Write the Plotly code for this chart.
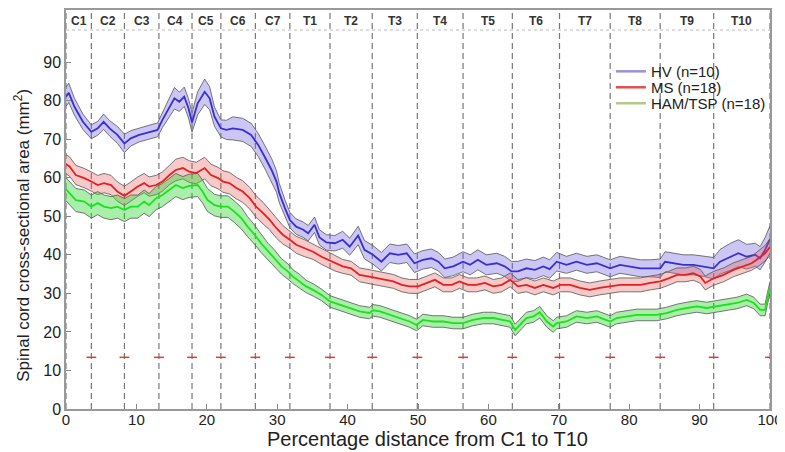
import plotly.graph_objects as go

# ---------------- data ----------------
segment_labels = ["C1", "C2", "C3", "C4", "C5", "C6", "C7",
                  "T1", "T2", "T3", "T4", "T5", "T6", "T7", "T8", "T9", "T10"]
boundaries = [0, 3.6, 8.3, 13.2, 17.9, 22.0, 26.9, 31.8, 37.5, 43.5,
              49.9, 56.4, 63.4, 70.1, 77.3, 84.4, 92.0, 100]
boundary_marks = [3.6, 8.3, 13.2, 17.9, 22.0, 26.9, 31.8, 37.5, 43.5,
                  49.9, 56.4, 63.4, 70.1, 77.3, 84.4, 92.0, 100]
boundary_mark_level = 13.4

hv_x = [0.0, 0.4, 1.2, 2.4, 3.6, 4.5, 5.35, 6.2, 7.3, 8.3, 9.2, 10.4, 11.6, 13.0, 13.7, 14.7,
        15.4, 16.1, 16.8, 17.4, 17.9, 18.7, 19.7, 20.4, 21.1, 22.0, 22.8, 23.7, 25.1, 26.3,
        27.3, 28.2, 29.2, 29.9, 30.3, 31.1, 31.8, 32.7, 33.7, 34.4, 35.3, 36.0, 37.0, 38.2,
        39.3, 40.3, 41.5, 42.4, 43.6, 44.8, 46.0, 47.2, 48.4, 49.5, 50.7, 51.9, 52.9, 53.8,
        55.0, 56.4, 57.4, 58.5, 59.7, 61.2, 62.3, 63.3, 64.2, 65.4, 66.6, 67.8, 68.7, 69.7,
        71.1, 72.5, 74.0, 75.4, 77.3, 78.7, 80.1, 81.6, 83.0, 84.4, 85.1, 86.3, 87.7, 89.1,
        90.6, 92.0, 92.9, 94.4, 95.5, 96.7, 97.9, 98.6, 99.3, 100.0]
hv_mean = [81.0, 82.0, 78.4, 74.5, 71.9, 72.8, 74.5, 72.8, 71.1, 68.9, 70.2, 71.1, 71.7, 72.4, 75.0, 78.4,
           80.6, 79.7, 81.0, 78.0, 74.3, 79.3, 82.3, 80.6, 75.8, 72.8, 72.4, 72.8, 72.4, 71.1,
           68.5, 65.5, 62.0, 59.0, 56.0, 52.1, 49.0, 47.3, 46.5, 45.6, 47.8, 44.5, 43.2, 43.0,
           43.9, 42.1, 45.0, 41.3, 40.0, 38.2, 40.4, 40.0, 40.4, 37.8, 38.7, 39.1, 38.2, 36.5,
           37.0, 38.2, 37.4, 38.7, 37.4, 37.8, 37.0, 35.7, 35.7, 36.5, 36.1, 37.0, 36.3, 38.2,
           37.4, 38.2, 37.4, 37.8, 36.5, 37.4, 37.0, 36.5, 36.5, 36.5, 38.2, 37.8, 37.4, 37.4,
           37.0, 36.5, 38.2, 39.5, 40.4, 39.5, 40.0, 39.1, 41.3, 44.0]
hv_err = [2.5, 2.5, 2.2, 2.0, 1.8, 1.8, 2.0, 2.0, 2.2, 2.4, 2.0, 1.8, 1.8, 1.8, 2.0, 2.5,
          2.8, 2.5, 2.5, 2.5, 2.5, 3.0, 3.3, 3.0, 2.5, 2.2, 2.5, 3.0, 3.0, 3.0,
          3.0, 3.0, 3.0, 2.8, 2.5, 2.2, 2.0, 2.0, 2.0, 2.0, 2.0, 2.0, 2.0, 2.0,
          2.2, 2.2, 2.4, 2.4, 2.4, 2.4, 2.4, 2.4, 2.4, 2.4, 2.4, 2.4, 2.4, 2.4,
          2.4, 2.6, 2.6, 2.6, 2.6, 2.6, 2.6, 2.6, 2.6, 2.4, 2.4, 2.4, 2.4, 2.4,
          2.2, 2.2, 2.2, 2.2, 2.2, 2.2, 2.2, 2.2, 2.2, 2.4, 2.6, 2.6, 2.6, 2.6,
          2.6, 2.8, 3.2, 3.5, 3.5, 3.2, 3.0, 3.0, 3.2, 3.5]

ms_x = [0.0, 0.5, 1.4, 2.6, 3.6, 4.5, 5.4, 6.4, 7.3, 8.3, 9.2, 10.2, 11.1, 11.8, 12.8, 13.7,
        14.7, 15.6, 16.6, 17.5, 18.5, 19.7, 20.6, 21.6, 22.3, 23.2, 24.2, 25.1, 26.1, 27.0,
        28.0, 28.9, 29.9, 30.8, 31.8, 32.7, 33.9, 35.1, 36.3, 37.2, 38.2, 39.3, 40.5, 41.7,
        42.9, 44.1, 45.3, 46.5, 47.7, 48.8, 50.0, 51.2, 52.4, 53.6, 54.8, 55.9, 57.1, 58.3,
        59.5, 60.7, 61.9, 63.1, 64.2, 65.4, 66.6, 67.8, 69.2, 70.2, 71.6, 73.0, 74.4, 75.8,
        77.3, 78.7, 80.1, 81.6, 83.0, 84.4, 85.6, 86.8, 88.0, 89.1, 90.1, 90.8, 92.0, 93.4,
        94.8, 96.2, 97.4, 98.4, 99.3, 100.0]
ms_mean = [63.5, 62.9, 60.7, 59.9, 59.0, 58.1, 58.6, 58.1, 56.4, 55.3, 56.4, 57.7, 58.6, 57.7, 58.1, 59.0,
           60.7, 62.0, 62.5, 61.6, 61.2, 62.5, 60.7, 59.9, 59.0, 58.6, 57.3, 56.4, 54.7, 52.5,
           50.8, 49.1, 46.9, 45.2, 43.9, 42.6, 41.7, 40.8, 39.5, 38.7, 37.8, 37.0, 36.5, 34.8,
           34.4, 33.9, 33.5, 33.1, 32.2, 31.8, 31.8, 32.7, 33.5, 32.2, 32.2, 33.1, 32.2, 32.2,
           32.7, 31.8, 32.2, 33.5, 31.8, 32.2, 31.4, 32.2, 31.4, 32.2, 32.2, 31.4, 30.9, 31.4,
           31.8, 32.2, 32.2, 32.2, 32.7, 33.1, 33.9, 34.8, 34.8, 35.2, 34.4, 32.7, 33.9, 34.8,
           36.1, 37.0, 37.8, 39.1, 40.4, 42.0]
ms_err = [2.5, 2.5, 2.5, 2.5, 2.5, 2.5, 2.5, 2.5, 2.5, 2.5, 2.5, 2.5, 2.5, 2.5, 2.5, 2.5,
          2.5, 2.8, 2.8, 2.8, 2.8, 2.8, 2.8, 2.8, 2.8, 2.8, 2.8, 2.8, 2.8, 2.8,
          2.8, 2.6, 2.6, 2.4, 2.2, 2.2, 2.2, 2.0, 2.0, 2.0, 2.0, 1.8, 1.8, 1.8,
          1.8, 1.8, 1.8, 1.8, 1.8, 1.8, 1.8, 1.8, 1.8, 1.8, 1.8, 1.8, 1.8, 1.8,
          1.8, 1.8, 1.8, 1.8, 1.8, 1.8, 1.8, 1.8, 1.8, 1.8, 1.8, 1.8, 1.8, 1.8,
          1.8, 1.8, 1.8, 1.8, 1.8, 1.8, 1.8, 1.8, 1.8, 1.8, 1.8, 1.8, 1.8, 1.8,
          1.8, 1.8, 1.8, 2.0, 2.0, 2.2]

ham_x = [0.0, 0.5, 1.4, 2.6, 3.6, 4.5, 5.4, 6.4, 7.3, 8.3, 9.2, 10.2, 11.1, 11.8, 12.8, 13.7,
         14.7, 15.6, 16.6, 17.5, 18.7, 19.4, 20.1, 21.1, 22.0, 23.0, 23.9, 24.9, 25.8, 26.8,
         27.7, 28.7, 29.6, 30.6, 31.5, 32.2, 33.2, 34.1, 35.1, 36.3, 37.5, 38.9, 40.3, 41.7,
         43.1, 43.6, 44.6, 46.0, 47.4, 48.8, 49.8, 50.7, 52.1, 53.6, 55.0, 56.4, 57.8, 59.3,
         60.7, 62.1, 63.1, 63.8, 64.5, 65.4, 66.4, 67.3, 68.3, 69.2, 69.7, 71.1, 72.5, 74.0,
         75.4, 76.6, 77.3, 78.2, 79.7, 81.1, 82.5, 83.9, 85.3, 86.8, 88.2, 89.6, 91.0, 92.5,
         93.9, 95.3, 96.7, 97.7, 98.6, 99.3, 99.6, 100.0]
ham_mean = [57.0, 56.0, 54.2, 53.8, 52.5, 53.4, 52.5, 52.1, 52.5, 51.6, 52.5, 52.5, 53.8, 52.9, 54.7, 55.5,
            56.8, 58.1, 57.3, 57.9, 58.1, 56.4, 54.2, 52.9, 52.5, 52.5, 51.2, 49.5, 47.3, 45.2,
            43.0, 40.8, 39.1, 37.0, 35.7, 34.4, 33.1, 31.8, 30.9, 29.6, 27.9, 27.0, 26.2, 25.3,
            24.9, 25.6, 25.3, 24.4, 23.6, 22.7, 21.8, 23.1, 22.7, 22.7, 22.3, 22.3, 23.1, 23.6,
            23.6, 23.1, 22.7, 20.5, 21.8, 23.6, 24.0, 25.1, 22.7, 21.4, 22.3, 22.7, 24.0, 23.6,
            24.0, 23.1, 22.7, 23.6, 24.0, 24.4, 24.4, 24.4, 24.9, 25.7, 26.2, 26.6, 26.2, 26.6,
            27.0, 27.5, 28.3, 27.5, 25.7, 25.7, 28.3, 31.6]
ham_err = [3.0, 3.0, 3.0, 3.0, 3.0, 3.0, 3.0, 3.0, 3.0, 3.0, 3.0, 3.0, 3.0, 3.0, 3.0, 3.0,
           3.0, 3.0, 3.0, 3.0, 3.0, 3.0, 3.0, 2.8, 2.8, 2.8, 2.8, 2.8, 2.6, 2.5,
           2.4, 2.2, 2.2, 2.0, 2.0, 1.8, 1.8, 1.6, 1.6, 1.5, 1.5, 1.5, 1.5, 1.5,
           1.5, 1.5, 1.5, 1.5, 1.5, 1.5, 1.5, 1.5, 1.5, 1.5, 1.5, 1.5, 1.5, 1.5,
           1.5, 1.5, 1.5, 1.5, 1.5, 1.5, 1.5, 1.5, 1.5, 1.5, 1.5, 1.5, 1.5, 1.5,
           1.5, 1.5, 1.5, 1.5, 1.5, 1.5, 1.5, 1.5, 1.5, 1.5, 1.5, 1.5, 1.5, 1.5,
           1.5, 1.5, 1.5, 1.5, 1.5, 1.5, 1.5, 1.5]

series = [
    ("HV (n=10)", hv_x, hv_mean, hv_err, "#3b2fd0", "rgba(120,105,225,0.38)", "#9a90dc"),
    ("MS (n=18)", ms_x, ms_mean, ms_err, "#e02222", "rgba(235,90,90,0.33)", "#e05050"),
    ("HAM/TSP (n=18)", ham_x, ham_mean, ham_err, "#1ee01e", "rgba(40,215,40,0.40)", "#b5c98a"),
]

YMAX = 103.5
FONT = "Liberation Sans, Arial, sans-serif"

fig = go.Figure()

for name, xs, ms, es, line_c, fill_c, leg_c in series:
    lo = [m - e for m, e in zip(ms, es)]
    hi = [m + e for m, e in zip(ms, es)]
    fig.add_trace(go.Scatter(x=xs, y=lo, mode="lines", line=dict(color="#555", width=0.8),
                             showlegend=False, hoverinfo="skip"))
    fig.add_trace(go.Scatter(x=xs, y=hi, mode="lines", line=dict(color="#555", width=0.8),
                             fill="tonexty", fillcolor=fill_c, showlegend=False, hoverinfo="skip"))
    fig.add_trace(go.Scatter(x=xs, y=ms, mode="lines", line=dict(color=line_c, width=1.8),
                             showlegend=False, name=name))

legend_ids = ["legend", "legend2", "legend3"]
for (name, xs, ms, es, line_c, fill_c, leg_c), lid in zip(series, legend_ids):
    fig.add_trace(go.Scatter(x=[None], y=[None], mode="lines", name=name, legend=lid,
                             line=dict(color=leg_c, width=2.5)))

# boundary markers (red) at bottom
fig.add_trace(go.Scatter(x=boundary_marks, y=[boundary_mark_level] * len(boundary_marks),
                         mode="markers", showlegend=False, hoverinfo="skip",
                         marker=dict(symbol="line-ew", size=7,
                                     line=dict(color="#ee3333", width=1.5))))

shapes = []
for b in boundaries:
    shapes.append(dict(type="line", xref="x", yref="y", x0=b, x1=b, y0=0, y1=YMAX,
                       line=dict(color="#777", width=1.2, dash="6px,4px"), layer="below"))
shapes.append(dict(type="line", xref="x", yref="y", x0=0, x1=100, y0=98.3, y1=98.3,
                   line=dict(color="#bbb", width=1, dash="dot"), layer="below"))

annotations = []
for i, lab in enumerate(segment_labels):
    mid = (boundaries[i] + boundaries[i + 1]) / 2
    annotations.append(dict(x=mid, y=100.7, xref="x", yref="y", text="<b>%s</b>" % lab,
                            showarrow=False, font=dict(family=FONT, size=12, color="#333")))

# axis titles
annotations.append(dict(x=0.513, y=0, xref="paper", yref="paper", yanchor="middle",
                        yshift=-30, showarrow=False,
                        text="Percentage distance from C1 to T10",
                        font=dict(family=FONT, size=20, color="#222")))
annotations.append(dict(x=-0.0625, y=0.434, xref="paper", yref="paper", xanchor="center",
                        yanchor="middle", textangle=-90, showarrow=False,
                        text="Spinal cord cross-sectional area (mm<sup>2</sup>)",
                        font=dict(family=FONT, size=17, color="#222")))

leg_common = dict(x=0.774, xanchor="left", yanchor="top", bgcolor="rgba(0,0,0,0)",
                  font=dict(family=FONT, size=15, color="#222"))

# page body has an 8px margin: plot area is positioned to compensate
fig.update_layout(
    width=785, height=444,
    margin=dict(l=58, r=23, t=2, b=43),
    paper_bgcolor="white", plot_bgcolor="white",
    font=dict(family=FONT, color="#222"),
    shapes=shapes, annotations=annotations,
    legend=dict(y=0.887, **leg_common),
    legend2=dict(y=0.847, **leg_common),
    legend3=dict(y=0.807, **leg_common),
    xaxis=dict(range=[0, 100], tickvals=[0, 10, 20, 30, 40, 50, 60, 70, 80, 90, 100],
               ticks="inside", ticklen=5, tickcolor="#888", showgrid=False, zeroline=False,
               showline=True, linecolor="#999", linewidth=1.5, mirror=True, automargin=False,
               ticklabelstandoff=-4, ticklabeloverflow="allow",
               tickfont=dict(size=15, color="#222")),
    yaxis=dict(range=[0, YMAX], tickvals=[0, 10, 20, 30, 40, 50, 60, 70, 80, 90],
               ticks="inside", ticklen=5, tickcolor="#888", showgrid=False, zeroline=False,
               showline=True, linecolor="#999", linewidth=1.5, mirror=True, automargin=False,
               tickfont=dict(size=16, color="#222")),
)

fig.write_html("out.html")
